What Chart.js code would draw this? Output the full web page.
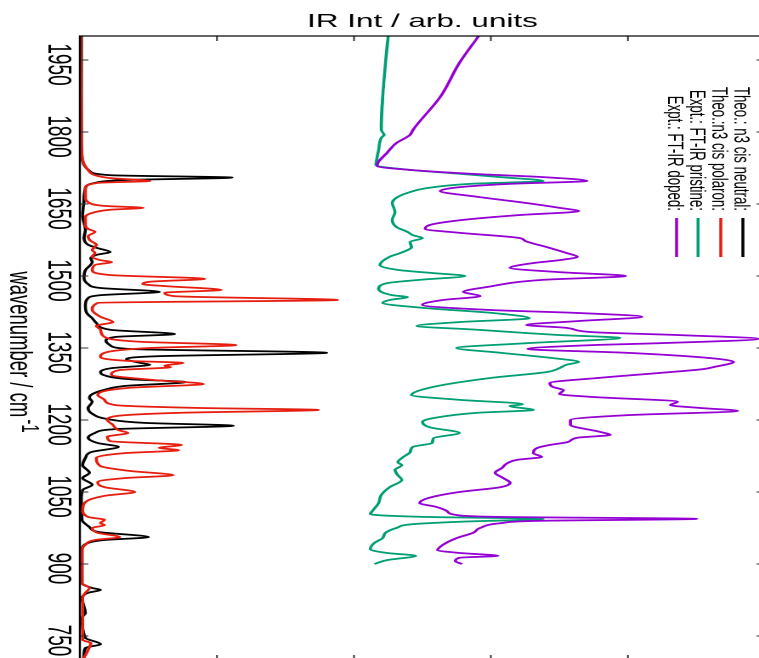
<!DOCTYPE html>
<html>
<head>
<meta charset="utf-8">
<script src="https://cdn.jsdelivr.net/npm/chart.js@4.4.1/dist/chart.umd.min.js"></script>
<style>
  html, body { margin: 0; padding: 0; background: #fff; overflow: hidden; width: 759px; height: 658px; }
  /* the gnuplot figure is turned a quarter turn clockwise and stretched */
  #wrap { position: absolute; left: 0; top: 0; width: 700px; height: 470px;
          transform-origin: 0 0; transform: translate(799px, 0) rotate(90deg) scaleY(1.7); }
  canvas { display: block; }
</style>
</head>
<body>
<div id="wrap"><canvas id="irChart" width="700" height="470"></canvas></div>
<script>
// tick labels
const wnTicks = [750, 900, 1050, 1200, 1350, 1500, 1650, 1800, 1950];
const intTicks = [1, 2, 3, 4];

const seriesLabels = ['Theo.: n3 cis neutral:', 'Theo.:n3 cis polaron:', 'Expt.: FT-IR pristine:', 'Expt.: FT-IR doped:'];
const seriesColors = ['#000000', '#e51e10', '#009e73', '#9400d3'];

// [wavenumber, intensity]
const neutral = [
  [2000,0.01],[1867,0.01],[1783,0.01],[1748,0.015],[1731,0.03],[1719,0.07],[1710,0.22],[1705,1.11],[1700,0.33],
  [1694,0.11],[1683,0.04],[1658,0.03],[1627,0.02],[1596,0.04],[1579,0.03],[1565,0.06],[1558,0.13],[1550,0.22],
  [1544,0.12],[1537,0.08],[1529,0.09],[1512,0.04],[1498,0.03],[1483,0.06],[1475,0.15],[1467,0.58],[1460,0.15],
  [1454,0.06],[1440,0.04],[1423,0.05],[1412,0.09],[1402,0.12],[1388,0.22],[1379,0.69],[1373,0.26],[1365,0.19],
  [1356,0.22],[1348,0.36],[1340,1.80],[1333,0.58],[1327,0.34],[1319,0.44],[1315,0.51],[1308,0.23],[1300,0.15],
  [1294,0.17],[1285,0.36],[1279,0.77],[1271,0.33],[1263,0.18],[1252,0.08],[1246,0.07],[1238,0.09],[1225,0.06],
  [1213,0.09],[1202,0.20],[1194,0.47],[1188,1.12],[1181,0.26],[1173,0.11],[1163,0.06],[1152,0.13],[1144,0.28],
  [1133,0.08],[1121,0.04],[1106,0.02],[1090,0.07],[1079,0.02],[1065,0.09],[1054,0.02],[1033,0.01],[992,0.015],
  [977,0.07],[967,0.13],[956,0.50],[950,0.18],[944,0.06],[929,0.015],[860,0.015],[850,0.09],[846,0.15],[840,0.06],
  [829,0.015],[798,0.04],[788,0.015],[746,0.04],[733,0.15],[725,0.04],[710,0.03],[696,0.02]
];

const polaron = [
  [2000,0.005],[1783,0.01],[1742,0.02],[1721,0.06],[1710,0.11],[1704,0.22],[1698,0.51],[1694,0.13],[1683,0.04],
  [1665,0.04],[1652,0.07],[1646,0.18],[1642,0.46],[1638,0.22],[1633,0.11],[1623,0.04],[1606,0.04],[1598,0.06],
  [1592,0.11],[1583,0.06],[1575,0.07],[1565,0.12],[1554,0.09],[1548,0.11],[1540,0.09],[1533,0.15],[1529,0.23],
  [1523,0.11],[1512,0.09],[1502,0.22],[1494,0.91],[1488,0.51],[1483,0.46],[1479,0.62],[1471,1.03],[1465,0.62],
  [1458,0.69],[1450,1.88],[1444,0.13],[1429,0.09],[1415,0.15],[1404,0.24],[1396,0.12],[1388,0.15],[1373,0.18],
  [1363,0.44],[1356,1.14],[1350,0.51],[1340,0.18],[1331,0.15],[1323,0.36],[1319,0.75],[1313,0.62],[1310,0.66],
  [1304,0.29],[1294,0.23],[1283,0.55],[1275,0.90],[1267,0.36],[1252,0.13],[1242,0.18],[1231,0.26],[1225,0.88],
  [1221,1.74],[1215,0.73],[1208,0.26],[1200,0.20],[1190,0.24],[1179,0.28],[1173,0.35],[1165,0.20],[1156,0.22],
  [1148,0.74],[1142,0.58],[1137,0.72],[1131,0.33],[1121,0.12],[1104,0.15],[1094,0.36],[1085,0.68],[1079,0.33],
  [1071,0.13],[1060,0.18],[1050,0.40],[1042,0.18],[1029,0.04],[1013,0.02],[998,0.06],[992,0.18],[985,0.15],
  [981,0.18],[975,0.09],[965,0.13],[956,0.29],[950,0.11],[940,0.04],[929,0.015],[860,0.015],[850,0.07],[840,0.04],
  [829,0.02],[742,0.02],[735,0.08],[721,0.06],[700,0.02]
];

const pristine = [
  [2000,2.25],[1944,2.23],[1873,2.21],[1804,2.20],[1794,2.22],[1788,2.20],[1762,2.18],[1748,2.17],[1731,2.16],
  [1721,2.41],[1713,2.77],[1706,3.07],[1698,3.38],[1692,2.85],[1683,2.53],[1673,2.39],[1663,2.31],[1652,2.28],
  [1633,2.30],[1617,2.28],[1602,2.31],[1592,2.39],[1585,2.43],[1579,2.50],[1571,2.41],[1560,2.42],[1548,2.34],
  [1540,2.26],[1523,2.19],[1512,2.34],[1506,2.58],[1500,2.81],[1492,2.48],[1485,2.24],[1473,2.18],[1460,2.28],
  [1456,2.39],[1450,2.26],[1444,2.21],[1433,2.53],[1423,3.01],[1412,3.28],[1404,2.77],[1396,2.46],[1388,2.90],
  [1377,3.50],[1371,3.94],[1360,3.26],[1350,2.75],[1340,3.07],[1329,3.45],[1321,3.64],[1315,3.55],[1308,3.50],
  [1300,3.41],[1288,3.01],[1269,2.58],[1252,2.42],[1242,2.77],[1233,3.23],[1229,3.14],[1221,3.31],[1215,2.90],
  [1204,2.58],[1196,2.50],[1185,2.55],[1173,2.77],[1162,2.58],[1152,2.57],[1144,2.43],[1133,2.41],[1123,2.36],
  [1112,2.32],[1106,2.35],[1096,2.30],[1085,2.32],[1075,2.35],[1060,2.26],[1044,2.20],[1027,2.18],[1012,2.14],
  [1004,2.12],[998,2.53],[994,3.38],[988,2.77],[983,2.43],[975,2.31],[965,2.23],[954,2.21],[944,2.15],[931,2.12],
  [923,2.24],[917,2.45],[908,2.24],[900,2.15]
];

const doped = [
  [2000,2.91],[1944,2.77],[1873,2.63],[1804,2.43],[1794,2.41],[1790,2.39],[1777,2.31],[1756,2.24],[1738,2.18],
  [1729,2.17],[1721,2.41],[1713,2.85],[1706,3.38],[1698,3.70],[1692,3.14],[1685,2.77],[1677,2.63],[1665,2.90],
  [1652,3.26],[1642,3.50],[1635,3.64],[1627,3.21],[1617,2.80],[1606,2.55],[1598,2.52],[1590,2.77],[1579,3.21],
  [1573,3.25],[1560,3.41],[1548,3.55],[1540,3.63],[1533,3.50],[1527,3.31],[1517,3.14],[1508,3.50],[1500,3.98],
  [1492,3.38],[1477,2.97],[1467,2.80],[1458,2.92],[1450,2.65],[1440,2.50],[1429,3.01],[1423,3.63],[1415,4.10],
  [1406,3.63],[1398,3.26],[1392,3.55],[1383,3.74],[1377,4.36],[1369,4.95],[1360,4.23],[1356,3.74],[1348,3.27],
  [1340,3.99],[1329,4.60],[1321,4.77],[1310,4.62],[1306,4.55],[1298,4.23],[1288,3.80],[1277,3.43],[1269,3.45],
  [1262,3.53],[1254,3.50],[1248,3.74],[1238,4.36],[1231,4.31],[1225,4.53],[1219,4.80],[1210,3.99],[1200,3.58],
  [1190,3.58],[1175,3.80],[1169,3.87],[1163,3.63],[1154,3.56],[1148,3.43],[1142,3.34],[1131,3.31],[1123,3.37],
  [1117,3.19],[1110,3.12],[1100,3.08],[1090,3.03],[1079,3.09],[1069,3.14],[1060,3.07],[1050,2.77],[1038,2.55],
  [1027,2.48],[1019,2.60],[1010,2.68],[1002,2.75],[998,3.07],[994,4.50],[990,3.36],[985,3.07],[975,2.92],
  [965,2.87],[954,2.75],[940,2.65],[929,2.61],[923,2.77],[917,3.05],[913,2.77],[906,2.74],[900,2.79]
];

const allSeries = [neutral, polaron, pristine, doped];
const fontFamily = '"Liberation Sans", Arial, sans-serif';

// frame, inward ticks, axis titles and key, gnuplot style
const gnuplotFrame = {
  id: 'gnuplotFrame',
  afterDatasetsDraw(chart) {
    const ctx = chart.ctx;
    const a = chart.chartArea;
    const xs = chart.scales.x;
    const ys = chart.scales.y;
    ctx.save();

    ctx.strokeStyle = '#333';
    ctx.lineWidth = 1;
    ctx.beginPath();
    wnTicks.forEach(v => {
      const px = xs.getPixelForValue(v);
      ctx.moveTo(px, a.bottom); ctx.lineTo(px, a.bottom - 5);
      ctx.moveTo(px, a.top); ctx.lineTo(px, a.top + 5);
    });
    intTicks.forEach(v => {
      const py = ys.getPixelForValue(v);
      ctx.moveTo(a.left, py); ctx.lineTo(a.left + 5, py);
      ctx.moveTo(a.right, py); ctx.lineTo(a.right - 5, py);
    });
    ctx.stroke();

    ctx.strokeStyle = '#000';
    ctx.lineWidth = 1.2;
    ctx.strokeRect(a.left, a.top, a.right - a.left, a.bottom - a.top);

    // y title
    ctx.fillStyle = '#000';
    ctx.font = '18.5px ' + fontFamily;
    ctx.save();
    ctx.translate(27, (a.top + a.bottom) / 2);
    ctx.rotate(-Math.PI / 2);
    ctx.textAlign = 'center';
    ctx.textBaseline = 'alphabetic';
    ctx.fillText('IR Int / arb. units', 0, 0);
    ctx.restore();

    // x title with superscript
    const main = 'wavenumber / cm';
    const sup = '-1';
    ctx.textAlign = 'left';
    ctx.textBaseline = 'alphabetic';
    ctx.font = '18.5px ' + fontFamily;
    const w1 = ctx.measureText(main).width;
    ctx.font = '15px ' + fontFamily;
    const w2 = ctx.measureText(sup).width;
    const x0 = (a.left + a.right) / 2 + 4 - (w1 + w2 + 2) / 2;
    ctx.font = '18.5px ' + fontFamily;
    ctx.fillText(main, x0, 464);
    ctx.font = '15px ' + fontFamily;
    ctx.fillText(sup, x0 + w1 + 2, 457);

    // key
    const rows = [33, 46, 59.4, 72];
    ctx.font = '13.3px ' + fontFamily;
    ctx.textAlign = 'right';
    chart.data.datasets.forEach((ds, i) => {
      ctx.fillStyle = '#000';
      ctx.fillText(ds.label, 211, rows[i] + 4.8);
      ctx.strokeStyle = ds.borderColor;
      ctx.lineWidth = 1.8;
      ctx.beginPath();
      ctx.moveTo(218, rows[i]);
      ctx.lineTo(257, rows[i]);
      ctx.stroke();
    });
    ctx.restore();
  }
};

const ctx = document.getElementById('irChart').getContext('2d');
new Chart(ctx, {
  type: 'line',
  data: {
    datasets: allSeries.map((s, i) => ({
      label: seriesLabels[i],
      data: s.map(p => ({ x: p[0], y: p[1] })),
      borderColor: seriesColors[i],
      borderWidth: 1.8,
      pointRadius: 0,
      fill: false,
      cubicInterpolationMode: 'monotone',
      order: [4, 3, 2, 1][i]
    }))
  },
  options: {
    responsive: false,
    animation: false,
    devicePixelRatio: 2,
    layout: { padding: { left: 0, right: 40, top: 20, bottom: 0 } },
    plugins: { legend: { display: false }, tooltip: { enabled: false } },
    scales: {
      x: {
        type: 'linear',
        reverse: true,
        min: 700,
        max: 2000,
        afterBuildTicks: s => { s.ticks = wnTicks.map(v => ({ value: v })); },
        afterFit: s => { s.height = 47; },
        grid: { display: false, drawTicks: false },
        border: { display: false },
        ticks: {
          color: '#000',
          font: { family: fontFamily, size: 19 },
          padding: 2,
          labelOffset: 4.5,
          maxRotation: 0,
          autoSkip: false,
          callback: v => String(v)
        }
      },
      y: {
        type: 'linear',
        min: 0,
        max: 5,
        afterFit: s => { s.width = 36; },
        grid: { display: false, drawTicks: false },
        border: { display: false },
        ticks: { display: false, stepSize: 1 }
      }
    }
  },
  plugins: [gnuplotFrame]
});
</script>
</body>
</html>
